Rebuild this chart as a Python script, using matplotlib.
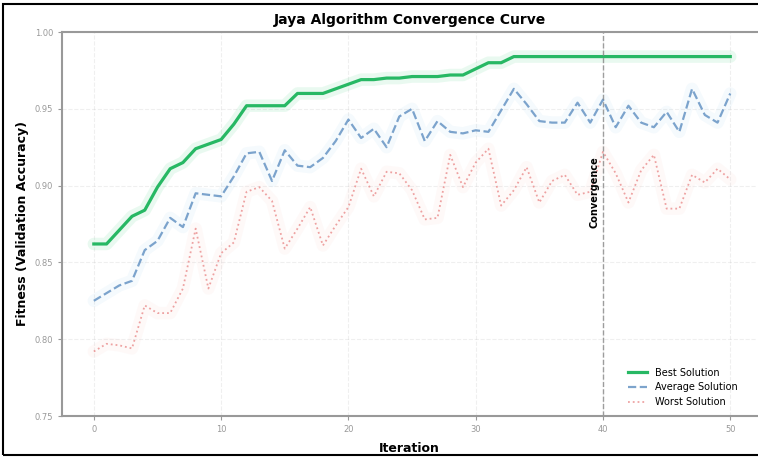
import numpy as np
import matplotlib.pyplot as plt
from matplotlib.patches import Rectangle

# Данные кривых сходимости
iterations = list(range(51))

best = [0.862, 0.862, 0.871, 0.880, 0.884, 0.899, 0.911, 0.915, 0.924, 0.927,
        0.930, 0.940, 0.952, 0.952, 0.952, 0.952, 0.960, 0.960, 0.960, 0.963,
        0.966, 0.969, 0.969, 0.970, 0.970, 0.971, 0.971, 0.971, 0.972, 0.972,
        0.976, 0.980, 0.980, 0.984, 0.984, 0.984, 0.984, 0.984, 0.984, 0.984,
        0.984, 0.984, 0.984, 0.984, 0.984, 0.984, 0.984, 0.984, 0.984, 0.984,
        0.984]

average = [0.825, 0.830, 0.835, 0.838, 0.858, 0.864, 0.879, 0.873, 0.895, 0.894,
           0.893, 0.906, 0.921, 0.922, 0.903, 0.923, 0.913, 0.912, 0.918, 0.929,
           0.943, 0.931, 0.937, 0.925, 0.945, 0.950, 0.929, 0.942, 0.935, 0.934,
           0.936, 0.935, 0.949, 0.963, 0.953, 0.942, 0.941, 0.941, 0.954, 0.941,
           0.956, 0.938, 0.952, 0.941, 0.938, 0.948, 0.935, 0.963, 0.946, 0.941,
           0.960]

worst = [0.792, 0.797, 0.796, 0.794, 0.822, 0.817, 0.817, 0.833, 0.872, 0.833,
         0.856, 0.863, 0.896, 0.899, 0.890, 0.859, 0.872, 0.886, 0.861, 0.874,
         0.886, 0.911, 0.893, 0.909, 0.908, 0.897, 0.878, 0.879, 0.920, 0.899,
         0.915, 0.924, 0.887, 0.897, 0.912, 0.889, 0.903, 0.907, 0.894, 0.896,
         0.922, 0.908, 0.889, 0.910, 0.920, 0.885, 0.885, 0.907, 0.902, 0.911,
         0.904]

convergence_iter = 40
y_ticks = [0.75, 0.80, 0.85, 0.90, 0.95, 1.00]
x_ticks = [0, 10, 20, 30, 40, 50]

fig = plt.figure(figsize=(7.58, 4.59), dpi=100)
ax = fig.add_axes([62 / 758, 1 - 416 / 459, (757 - 62) / 758, (416 - 32) / 459])

green = '#2ecc71'
blue = '#5d8dc0'
red = '#e57373'

# Подсветка под линиями
ax.plot(iterations, best, color=green, linewidth=9, alpha=0.1, solid_capstyle='round')
ax.plot(iterations, average, color='#85c1e9', linewidth=9, alpha=0.08, solid_capstyle='round')
ax.plot(iterations, worst, color='#f5b7b1', linewidth=9, alpha=0.08, solid_capstyle='round')

# Основные линии
ax.plot(iterations, best, color='#27b864', linewidth=2.3, label='Best Solution')
ax.plot(iterations, average, color=blue, linestyle='--', linewidth=1.6,
        alpha=0.8, label='Average Solution')
ax.plot(iterations, worst, color=red, linestyle=':', linewidth=1.3,
        alpha=0.65, label='Worst Solution')

# Линия сходимости
ax.axvline(convergence_iter, color='#888888', linestyle='--', linewidth=1, alpha=0.8)
ax.text(convergence_iter - 0.3, 0.896, 'Convergence', rotation=90,
        ha='right', va='center', fontsize=7, fontweight='bold')

ax.set_xlim(-2.5, 52.1)
ax.set_ylim(0.75, 1.00)
ax.set_xticks(x_ticks)
ax.set_yticks(y_ticks)
ax.set_yticklabels([f'{v:.2f}' for v in y_ticks])
ax.tick_params(labelsize=6, colors='#999999', length=3)

ax.set_title('Jaya Algorithm Convergence Curve', fontsize=10, fontweight='bold', pad=6)
ax.set_xlabel('Iteration', fontsize=9, fontweight='bold', labelpad=6)
ax.set_ylabel('Fitness (Validation Accuracy)', fontsize=9, fontweight='bold', labelpad=4)

ax.grid(True, linestyle='--', alpha=0.2)
for side in ['left', 'bottom', 'top']:
    ax.spines[side].set_color('#999999')
    ax.spines[side].set_linewidth(1.5)
ax.spines['right'].set_visible(False)

leg = ax.legend(loc='lower right', bbox_to_anchor=(0.985, 0.0), frameon=False, fontsize=7)

# Рамка вокруг фигуры
fig.patches.append(Rectangle((3 / 758, 4 / 459), 1.0, 451 / 459, transform=fig.transFigure,
                             fill=False, edgecolor='black', linewidth=1.5))

fig.savefig('out.png', dpi=100)
